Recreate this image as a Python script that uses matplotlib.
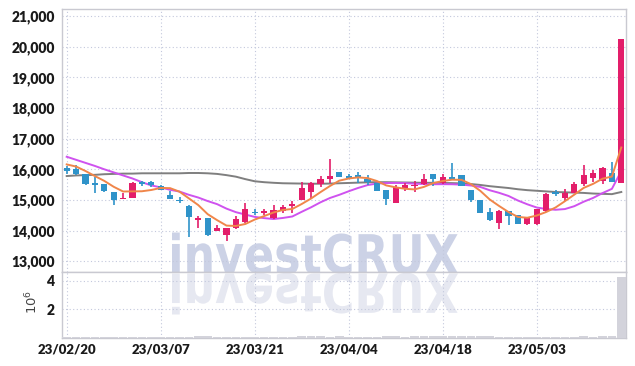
import numpy as np
import matplotlib
matplotlib.use('Agg')
import matplotlib.pyplot as plt
from matplotlib.textpath import TextPath
from matplotlib.patches import PathPatch
from matplotlib.font_manager import FontProperties
from matplotlib.transforms import Affine2D
from matplotlib.ticker import FuncFormatter, FixedLocator

# daily candles, 23/02/20 .. 23/05/17 (60 trading days)
opens = [16050, 16000, 15840, 15550, 15510, 15260, 15030, 15060, 15600, 15600,
         15440, 15150, 15000, 14800, 14350, 14400, 14000, 13850, 14070, 14280,
         14600, 14570, 14400, 14650, 14800, 15000, 15260, 15530, 15700, 15900,
         15780, 15800, 15700, 15540, 15320, 14910, 15370, 15460, 15510, 15840,
         15550, 15730, 15800, 15310, 14990, 14600, 14250, 14630, 14500, 14210,
         14200, 14640, 15240, 15060, 15240, 15530, 15730, 15620, 15870, 15560]
highs = [16100, 16130, 15860, 15740, 15530, 15270, 15240, 15580, 15620, 15620,
         15480, 15300, 15100, 14850, 14470, 14420, 14190, 14080, 14470, 14910,
         14720, 14700, 14820, 14850, 14960, 15600, 15600, 15780, 16350, 15910,
         15850, 15900, 15830, 15560, 15330, 15500, 15560, 15620, 15860, 15850,
         15860, 16200, 15810, 15320, 15000, 14750, 14660, 14650, 14520, 14450,
         14720, 15230, 15320, 15370, 15570, 16130, 15980, 16070, 16250, 20250]
lows = [15850, 15800, 15500, 15240, 15250, 14850, 15020, 15050, 15450, 15430,
        15310, 15030, 14890, 13800, 14070, 13840, 13990, 13650, 14050, 14250,
        14500, 14500, 14390, 14580, 14580, 14990, 15070, 15420, 15560, 15740,
        15700, 15560, 15500, 15280, 14850, 14900, 15290, 15270, 15500, 15440,
        15520, 15680, 15440, 14930, 14560, 14330, 14060, 14190, 14200, 14180,
        14190, 14620, 15130, 14960, 15230, 15450, 15600, 15510, 15580, 15550]
closes = [15960, 15840, 15520, 15500, 15290, 15000, 15070, 15540, 15520, 15500,
          15330, 15040, 14960, 14430, 14400, 13850, 14070, 14070, 14370, 14720,
          14570, 14640, 14660, 14780, 14880, 15380, 15540, 15700, 15770, 15760,
          15730, 15720, 15590, 15290, 15040, 15420, 15480, 15490, 15700, 15670,
          15750, 15700, 15460, 15010, 14570, 14340, 14640, 14470, 14210, 14440,
          14700, 15210, 15210, 15240, 15510, 15800, 15870, 16050, 15590, 20250]

# moving average lines
ma5 = [16160, 16090, 15945, 15780, 15622, 15430, 15276, 15280, 15284, 15326,
       15392, 15386, 15270, 15052, 14832, 14536, 14342, 14164, 14152, 14216,
       14360, 14474, 14592, 14674, 14706, 14868, 15048, 15256, 15454, 15630,
       15700, 15736, 15714, 15618, 15474, 15412, 15364, 15344, 15426, 15552,
       15618, 15662, 15656, 15518, 15298, 15016, 14804, 14606, 14446, 14420,
       14492, 14606, 14754, 14960, 15174, 15394, 15526, 15694, 15764, 16712]
ma10 = [16410, 16310, 16210, 16110, 16000, 15900, 15800, 15700, 15580, 15474,
        15411, 15331, 15275, 15168, 15079, 14964, 14864, 14717, 14602, 14524,
        14448, 14408, 14378, 14413, 14461, 14614, 14761, 14924, 15064, 15168,
        15284, 15392, 15485, 15536, 15552, 15556, 15550, 15529, 15522, 15513,
        15515, 15513, 15500, 15472, 15425, 15317, 15233, 15131, 14982, 14859,
        14754, 14705, 14680, 14703, 14797, 14943, 15066, 15224, 15363, 15944]
ma60 = [15780, 15800, 15810, 15820, 15840, 15850, 15860, 15860, 15870, 15870,
        15870, 15870, 15870, 15880, 15880, 15870, 15850, 15810, 15760, 15680,
        15610, 15580, 15560, 15545, 15540, 15535, 15530, 15530, 15535, 15545,
        15555, 15565, 15575, 15580, 15580, 15575, 15570, 15565, 15560, 15560,
        15555, 15550, 15540, 15520, 15490, 15450, 15420, 15390, 15350, 15320,
        15300, 15280, 15260, 15250, 15240, 15230, 15210, 15200, 15190, 15260]

# volume, millions of shares
volume = [0.04, 0.04, 0.04, 0.04, 0.04, 0.04, 0.04, 0.04, 0.04, 0.04,
          0.04, 0.04, 0.04, 0.05, 0.10, 0.12, 0.04, 0.04, 0.04, 0.04,
          0.04, 0.04, 0.04, 0.04, 0.05, 0.10, 0.11, 0.10, 0.06, 0.09,
          0.04, 0.04, 0.04, 0.05, 0.10, 0.10, 0.05, 0.09, 0.10, 0.10,
          0.10, 0.10, 0.10, 0.10, 0.09, 0.09, 0.05, 0.04, 0.04, 0.04,
          0.04, 0.04, 0.04, 0.04, 0.05, 0.10, 0.05, 0.12, 0.12, 4.25]

tick_pos = [0, 10, 20, 30, 40, 50]
tick_labels = ['23/02/20', '23/03/07', '23/03/21', '23/04/04', '23/04/18', '23/05/03']
price_ticks = [13000, 14000, 15000, 16000, 17000, 18000, 19000, 20000, 21000]
vol_ticks = [2, 4]

UP = '#e31e6a'
DOWN = '#2f93c9'
GRID = '#c3c8dc'
SPINE = '#c9c9d1'
FONT = ['Lato', 'DejaVu Sans']

W, H = 635, 366
fig = plt.figure(figsize=(W / 100, H / 100), dpi=100)
ax = fig.add_axes([62 / W, 1 - 272 / H, 564 / W, 263 / H])
axv = fig.add_axes([62 / W, 1 - 337.5 / H, 564 / W, 65.5 / H], sharex=ax)

o = np.array(opens); c = np.array(closes)
x = np.arange(len(c))
cols = np.where(c >= o, UP, DOWN)
body = np.maximum(np.abs(c - o), 35)

ax.vlines(x, lows, highs, color=cols, lw=1.2, zorder=4)
ax.bar(x, body, bottom=np.minimum(o, c), width=0.66, color=cols, zorder=5)
ax.plot(x, ma60, color='#7f7f7f', lw=1.4, zorder=3)
ax.plot(x, ma10, color='#cf52ef', lw=1.4, zorder=3)
ax.plot(x, ma5, color='#f0864a', lw=1.4, zorder=6)

axv.bar(x, volume, width=0.9, color='#d3d3db', zorder=3)

ax.set_xlim(-0.5, 59.5)
ax.set_ylim(12650, 21230)
axv.set_ylim(0, 4.6)

for a in (ax, axv):
    a.xaxis.set_major_locator(FixedLocator(tick_pos))
    a.grid(True, color=GRID, ls=(0, (1, 2.2)), lw=0.8, zorder=0)
    a.tick_params(length=0, colors='#1a1a1a')
    for s in a.spines.values():
        s.set_color(SPINE)
        s.set_linewidth(1)

ax.set_yticks(price_ticks)
ax.yaxis.set_major_formatter(FuncFormatter(lambda v, p: f'{int(v):,}'))
ax.tick_params(axis='x', labelbottom=False)
ax.tick_params(axis='y', pad=5)
axv.set_yticks(vol_ticks)
axv.set_xticks(tick_pos)
axv.set_xticklabels(tick_labels)
axv.tick_params(axis='y', pad=5)
axv.tick_params(axis='x', pad=4)

for lab in ax.get_yticklabels() + axv.get_yticklabels():
    lab.set_fontfamily(FONT)
    lab.set_fontweight('heavy')
    lab.set_fontsize(10)
for lab in axv.get_xticklabels():
    lab.set_fontfamily(FONT)
    lab.set_fontweight('heavy')
    lab.set_fontsize(9.5)

fig.text(32 / W, 1 - 302 / H, r'$10^6$', rotation=90, ha='center', va='center',
         fontsize=9.5, color='#444444')

# watermark and its reflection
tp = TextPath((0, 0), 'investCRUX', size=100,
              prop=FontProperties(family='DejaVu Sans', weight='bold'))
bb = tp.get_extents()
sx = 286 / bb.width
sy = 41 / bb.y1
to_fig = Affine2D().scale(1 / W, 1 / H) + fig.transFigure
base = H - 273.5
main_tr = Affine2D().translate(-bb.x0, 0).scale(sx, sy).translate(172, base) + to_fig
refl_tr = Affine2D().translate(-bb.x0, 0).scale(sx, -sy).translate(172, base) + to_fig
ax.add_artist(PathPatch(tp, transform=main_tr, fc='#ccd2e6', lw=0, zorder=1))
axv.add_artist(PathPatch(tp, transform=refl_tr, fc='#e6e8f1', lw=0, zorder=1))

fig.savefig('out.png', dpi=100)
